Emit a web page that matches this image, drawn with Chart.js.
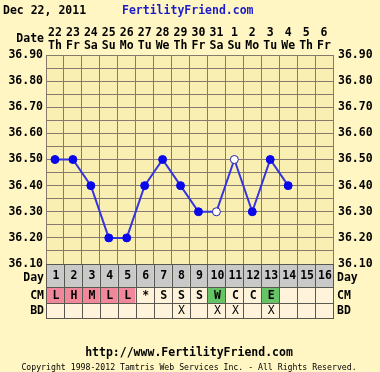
<!DOCTYPE html>
<html>
<head>
<meta charset="utf-8">
<title>Fertility chart</title>
<script src="https://cdn.jsdelivr.net/npm/chart.js@4/dist/chart.umd.min.js"></script>
<style>
    html, body { margin: 0; padding: 0; background: #fff6c4; }
    canvas { display: block; }
</style>
</head>
<body>
<canvas id="chart" width="380" height="372" style="width:380px;height:372px"></canvas>
<script>
// chart data
const cycleDays = ['1', '2', '3', '4', '5', '6', '7', '8', '9', '10', '11', '12', '13', '14', '15', '16'];
const dates = ['22', '23', '24', '25', '26', '27', '28', '29', '30', '31', '1', '2', '3', '4', '5', '6'];
const weekdays = ['Th', 'Fr', 'Sa', 'Su', 'Mo', 'Tu', 'We', 'Th', 'Fr', 'Sa', 'Su', 'Mo', 'Tu', 'We', 'Th', 'Fr'];
const temps = [36.50, 36.50, 36.40, 36.20, 36.20, 36.40, 36.50, 36.40, 36.30, 36.30, 36.50, 36.30, 36.50, 36.40, null, null];
const openDays = ['10', '11'];
const cmCodes = ['L', 'H', 'M', 'L', 'L', '*', 'S', 'S', 'S', 'W', 'C', 'C', 'E', '', '', ''];
const bdMarks = ['', '', '', '', '', '', '', 'X', '', 'X', 'X', '', 'X', '', '', ''];

const PAGE_BG = '#fff6c4';
const PLOT_BG = '#faefb3';
const GRID = '#867a6c';
const TABLE_LINE = '#5a5650';
const DAY_BG = '#c9c9c9';
const CELL_BG = '#fff3dc';
const PINK = '#f0879a';
const GREEN = '#66c466';
const LINE = '#3535e0';
const POINT = '#0808ea';
const MONO = "'DejaVu Sans Mono', monospace";
const BOLD = 'bold 11.5px ' + MONO;

const cmColor = (code) => {
    if (code === 'L' || code === 'H' || code === 'M') return PINK;
    if (code === 'W' || code === 'E') return GREEN;
    return CELL_BG;
};

const tickLabel = (v) => {
    const hundredths = Math.round(v * 100);
    return hundredths % 10 === 0 ? (hundredths / 100).toFixed(2) : '';
};

const extras = {
    id: 'extras',
    beforeDraw(chart) {
        const { ctx, chartArea: a } = chart;
        ctx.save();
        ctx.fillStyle = PAGE_BG;
        ctx.fillRect(0, 0, chart.width, chart.height);
        ctx.fillStyle = PLOT_BG;
        ctx.fillRect(a.left, a.top, a.right - a.left, a.bottom - a.top);
        ctx.restore();
    },
    afterDraw(chart) {
        const { ctx, chartArea: a } = chart;
        const x = chart.scales.x;
        const colW = x.getPixelForValue(1) - x.getPixelForValue(0);
        const rows = [a.bottom, a.bottom + 23, a.bottom + 39, a.bottom + 54];

        ctx.save();
        ctx.textBaseline = 'middle';

        // header
        ctx.font = BOLD;
        ctx.fillStyle = '#000';
        ctx.textAlign = 'left';
        ctx.fillText('Dec 22, 2011', 3, 11);
        ctx.fillStyle = '#1c1cc8';
        ctx.fillText('FertilityFriend.com', 122, 11);
        ctx.fillStyle = '#000';
        ctx.textAlign = 'right';
        ctx.fillText('Date', 44, 39);
        ctx.textAlign = 'center';
        dates.forEach((d, i) => {
            const cx = x.getPixelForValue(i);
            ctx.fillText(d, cx, 33);
            ctx.fillText(weekdays[i], cx, 46);
        });

        // table cells
        cycleDays.forEach((d, i) => {
            const left = x.getPixelForValue(i) - colW / 2;
            ctx.fillStyle = DAY_BG;
            ctx.fillRect(left, rows[0], colW, rows[1] - rows[0]);
            ctx.fillStyle = cmColor(cmCodes[i]);
            ctx.fillRect(left, rows[1], colW, rows[2] - rows[1]);
            ctx.fillStyle = CELL_BG;
            ctx.fillRect(left, rows[2], colW, rows[3] - rows[2]);
        });

        // table lines
        ctx.strokeStyle = TABLE_LINE;
        ctx.lineWidth = 1;
        ctx.beginPath();
        for (let i = 0; i <= cycleDays.length; i++) {
            const lx = Math.round(x.getPixelForValue(i) - colW / 2) + 0.5;
            ctx.moveTo(lx, rows[0]);
            ctx.lineTo(lx, rows[3]);
        }
        rows.forEach(ry => {
            ctx.moveTo(a.left, Math.round(ry) + 0.5);
            ctx.lineTo(a.right + 1, Math.round(ry) + 0.5);
        });
        ctx.stroke();

        // table text
        ctx.fillStyle = '#000';
        ctx.textAlign = 'center';
        cycleDays.forEach((d, i) => {
            const cx = x.getPixelForValue(i) + 1;
            ctx.font = BOLD;
            ctx.fillText(d, cx, (rows[0] + rows[1]) / 2 + 1);
            ctx.fillText(cmCodes[i], cx, (rows[1] + rows[2]) / 2 + 1);
            ctx.font = '11.5px ' + MONO;
            ctx.fillText(bdMarks[i], cx, (rows[2] + rows[3]) / 2 + 1);
        });

        ctx.font = BOLD;
        const rowNames = ['Day', 'CM', 'BD'];
        rowNames.forEach((name, r) => {
            const cy = r === 0 ? 278 : (rows[r] + rows[r + 1]) / 2 + 1;
            ctx.textAlign = 'right';
            ctx.fillText(name, 44, cy);
            ctx.textAlign = 'left';
            ctx.fillText(name, 337, cy);
        });

        // footer
        ctx.textAlign = 'center';
        ctx.fillText('http://www.FertilityFriend.com', 189, 353);
        ctx.font = '8.2px ' + MONO;
        ctx.fillText('Copyright 1998-2012 Tamtris Web Services Inc. - All Rights Reserved.', 189, 368);
        ctx.restore();
    }
};

const main = () => {
    const canvas = document.querySelector('#chart');
    new Chart(canvas.getContext('2d'), {
        type: 'line',
        data: {
            labels: cycleDays,
            datasets: [{
                data: temps,
                borderColor: LINE,
                borderWidth: 2,
                tension: 0,
                pointRadius: 4,
                pointBorderWidth: 1,
                pointBackgroundColor: cycleDays.map(d => openDays.includes(d) ? '#ffffff' : POINT),
                pointBorderColor: cycleDays.map(d => openDays.includes(d) ? '#2020b0' : POINT)
            }]
        },
        options: {
            responsive: false,
            animation: false,
            devicePixelRatio: 1,
            layout: { padding: { top: 55, bottom: 108, left: 0, right: 0 } },
            plugins: {
                legend: { display: false },
                tooltip: { enabled: false }
            },
            scales: {
                x: {
                    position: 'top',
                    offset: true,
                    grid: { offset: true, color: GRID, drawTicks: false },
                    border: { color: GRID },
                    ticks: { display: false },
                    afterFit: s => { s.height = 0; }
                },
                y: {
                    min: 36.1,
                    max: 36.9,
                    grid: { color: GRID, drawTicks: false },
                    border: { color: GRID },
                    ticks: { stepSize: 0.05, autoSkip: false, padding: 3, color: '#000', font: { family: MONO, size: 11.5, weight: 'bold' }, callback: tickLabel },
                    afterFit: s => { s.width = 46; }
                },
                y2: {
                    position: 'right',
                    min: 36.1,
                    max: 36.9,
                    grid: { display: false, drawTicks: false },
                    border: { color: GRID },
                    ticks: { stepSize: 0.05, autoSkip: false, padding: 5, color: '#000', font: { family: MONO, size: 11.5, weight: 'bold' }, callback: tickLabel },
                    afterFit: s => { s.width = 47; }
                }
            }
        },
        plugins: [extras]
    });
};

window.addEventListener('DOMContentLoaded', main);
</script>
</body>
</html>
